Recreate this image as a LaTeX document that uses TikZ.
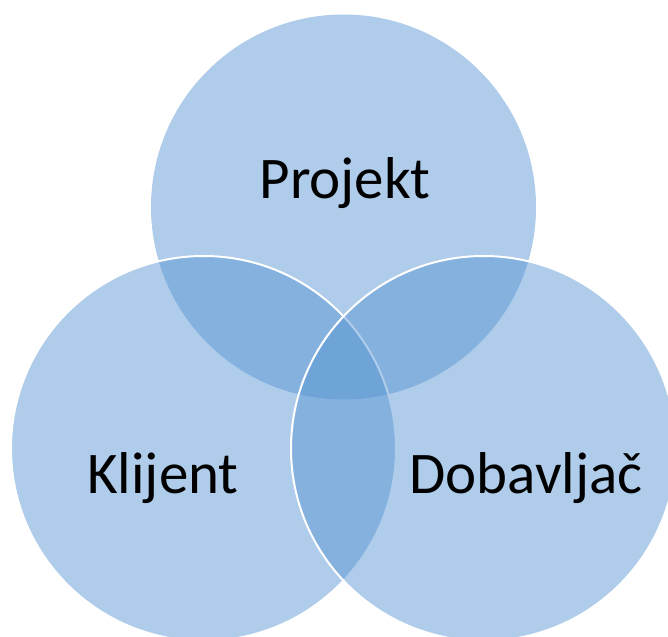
\documentclass[tikz,border=0pt]{standalone}
\usepackage{fontspec}
\setmainfont{Carlito}
\usepackage{tikz}
\usetikzlibrary{positioning}

\definecolor{krugplava}{RGB}{87,148,211}

\tikzset{
  krug/.style = {fill = krugplava, fill opacity = 0.475, draw = white, line width = 2pt},
  naziv/.style = {anchor = base, font = \fontsize{59}{70}\selectfont, text = black}
}

\begin{document}
\begin{tikzpicture}[x=1pt, y=-1pt]
    \useasboundingbox (0,0) rectangle (668,636);
    	\begin{scope}
          \fill[krug, draw = none] (343.5,207) circle (192.5);
          \draw[krug] (203.5,448.5) circle (192.5);
          \draw[krug] (483.5,448.5) circle (192.5);
    		\node[naziv] at (345,198) (projekt) {Projekt};
    		\node[naziv] at (163,493) (klijent) {Klijent};
    		\node[naziv] at (526,493) (dobavljac) {Dobavljač};
    	\end{scope}
\end{tikzpicture}
\end{document}
